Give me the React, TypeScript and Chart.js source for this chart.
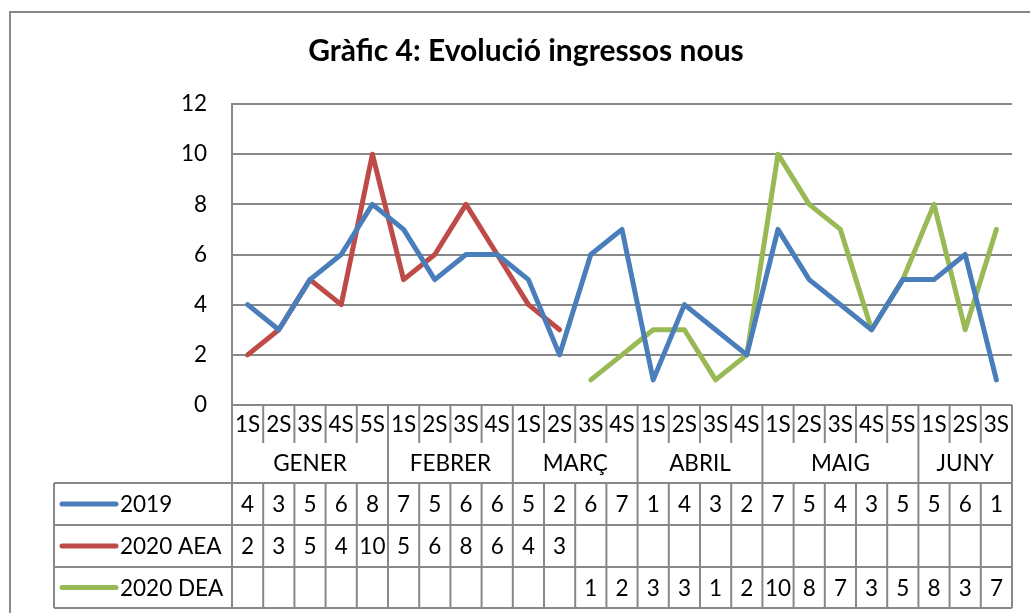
import React, { useEffect, useRef } from "react";
import { Chart, registerables } from "chart.js";

Chart.register(...registerables);

const TITLE = "Gràfic 4: Evolució ingressos nous";
const weekLabels = ["1S","2S","3S","4S","5S","1S","2S","3S","4S","1S","2S","3S","4S","1S","2S","3S","4S","1S","2S","3S","4S","5S","1S","2S","3S"];
const monthLabels = ["GENER","FEBRER","MARÇ","ABRIL","MAIG","JUNY"];
const monthSpans = [5, 4, 4, 4, 5, 3];
const seriesNames = ["2019", "2020 AEA", "2020 DEA"];
const values2019 = [4,3,5,6,8,7,5,6,6,5,2,6,7,1,4,3,2,7,5,4,3,5,5,6,1];
const values2020AEA = [2,3,5,4,10,5,6,8,6,4,3,null,null,null,null,null,null,null,null,null,null,null,null,null,null];
const values2020DEA = [null,null,null,null,null,null,null,null,null,null,null,1,2,3,3,1,2,10,8,7,3,5,8,3,7];
const seriesColors = ["#4A7EBB", "#BE4B48", "#98B954"];
const yMin = 0;
const yMax = 12;
const yStep = 2;

const FONT = "Lato, 'Open Sans', sans-serif";
const GRID = "#888888";

const tablePlugin = {
  id: "tablePlugin",
  afterDraw(chart: any) {
    const ctx: CanvasRenderingContext2D = chart.ctx;
    const area = chart.chartArea;
    const xs = chart.scales.x;
    const n = weekLabels.length;
    const w = (area.right - area.left) / n;
    const L = area.left;
    const R = area.right;
    const axisY = area.bottom;
    const weekBottom = 443;
    const monthBottom = 483;
    const rowBounds = [483, 525, 567, 608];
    const legendLeft = 54;
    const allSeries = [values2019, values2020AEA, values2020DEA];

    ctx.save();
    // outer frame
    ctx.strokeStyle = GRID;
    ctx.lineWidth = 2;
    ctx.beginPath();
    ctx.moveTo(10, 640);
    ctx.lineTo(10, 12);
    ctx.lineTo(1040, 12);
    ctx.stroke();

    // title
    ctx.fillStyle = "#000";
    ctx.font = `bold 30px ${FONT}`;
    ctx.textAlign = "center";
    ctx.textBaseline = "alphabetic";
    ctx.fillText(TITLE, 526, 61);

    ctx.strokeStyle = GRID;
    ctx.lineWidth = 2;
    ctx.beginPath();
    ctx.moveTo(L, area.top);
    ctx.lineTo(L, rowBounds[3]);
    ctx.moveTo(R, axisY);
    ctx.lineTo(R, rowBounds[3]);
    ctx.stroke();

    const monthEdges: number[] = [0];
    monthSpans.forEach((s) => monthEdges.push(monthEdges[monthEdges.length - 1] + s));
    ctx.beginPath();
    for (let i = 1; i < n; i++) {
      const x = L + i * w;
      const isMonth = monthEdges.includes(i);
      ctx.moveTo(x, axisY);
      ctx.lineTo(x, isMonth ? monthBottom : weekBottom);
      ctx.moveTo(x, rowBounds[0]);
      ctx.lineTo(x, rowBounds[3]);
    }
    rowBounds.forEach((y) => {
      ctx.moveTo(legendLeft, y);
      ctx.lineTo(R, y);
    });
    ctx.moveTo(legendLeft, rowBounds[0]);
    ctx.lineTo(legendLeft, rowBounds[3]);
    ctx.stroke();

    ctx.fillStyle = "#000";
    ctx.font = `22.5px ${FONT}`;
    ctx.textAlign = "center";
    ctx.textBaseline = "middle";
    for (let i = 0; i < n; i++) {
      const cx = xs.getPixelForValue(i);
      ctx.fillText(weekLabels[i], cx, (axisY + weekBottom) / 2 + 1);
    }
    for (let m = 0; m < monthLabels.length; m++) {
      const x0 = L + monthEdges[m] * w;
      const x1 = L + monthEdges[m + 1] * w;
      ctx.fillText(monthLabels[m], (x0 + x1) / 2, (weekBottom + monthBottom) / 2 + 1);
    }
    for (let r = 0; r < allSeries.length; r++) {
      const yc = (rowBounds[r] + rowBounds[r + 1]) / 2 + 1;
      ctx.strokeStyle = seriesColors[r];
      ctx.lineWidth = 5;
      ctx.lineCap = "round";
      ctx.beginPath();
      ctx.moveTo(62, yc - 1);
      ctx.lineTo(116, yc - 1);
      ctx.stroke();
      ctx.fillStyle = "#000";
      ctx.textAlign = "left";
      ctx.fillText(seriesNames[r], 120, yc);
      ctx.textAlign = "center";
      const vals = allSeries[r];
      for (let i = 0; i < n; i++) {
        const v = vals[i];
        if (v === null || v === undefined) continue;
        ctx.fillText(String(v), xs.getPixelForValue(i), yc);
      }
    }
    ctx.restore();
  },
};

export default function App() {
  const ref = useRef<HTMLCanvasElement>(null);
  useEffect(() => {
    if (!ref.current) return;
    const chart = new Chart(ref.current, {
      type: "line",
      data: {
        labels: weekLabels.map((_, i) => String(i)),
        datasets: [
          { label: seriesNames[0], data: values2019, borderColor: seriesColors[0] },
          { label: seriesNames[1], data: values2020AEA, borderColor: seriesColors[1] },
          { label: seriesNames[2], data: values2020DEA, borderColor: seriesColors[2] },
        ].map((d) => ({
          ...d,
          borderWidth: 5,
          pointRadius: 0,
          pointHoverRadius: 0,
          tension: 0,
          fill: false,
          spanGaps: false,
          borderJoinStyle: "round" as const,
          borderCapStyle: "round" as const,
        })),
      },
      options: {
        animation: false,
        responsive: false,
        maintainAspectRatio: false,
        events: [],
        layout: { padding: { top: 104, bottom: 613 - 405, left: 0, right: 18 } },
        plugins: { legend: { display: false }, title: { display: false }, tooltip: { enabled: false } },
        scales: {
          x: {
            type: "category",
            offset: true,
            display: false,
          },
          y: {
            min: yMin,
            max: yMax,
            ticks: {
              stepSize: yStep,
              padding: 25,
              color: "#000",
              font: { family: FONT, size: 22.5 },
            },
            grid: { color: GRID, lineWidth: 2, drawTicks: false },
            border: { display: true, color: GRID, width: 2 },
            afterFit: (scale: any) => {
              scale.width = 232;
            },
          },
        },
      },
      plugins: [tablePlugin],
    });
    return () => chart.destroy();
  }, []);
  return (
    <div style={{ position: "fixed", left: 0, top: 0, width: 1030, height: 613, background: "#fff" }}>
      <canvas ref={ref} width={1030} height={613} style={{ width: 1030, height: 613, display: "block" }} />
    </div>
  );
}
